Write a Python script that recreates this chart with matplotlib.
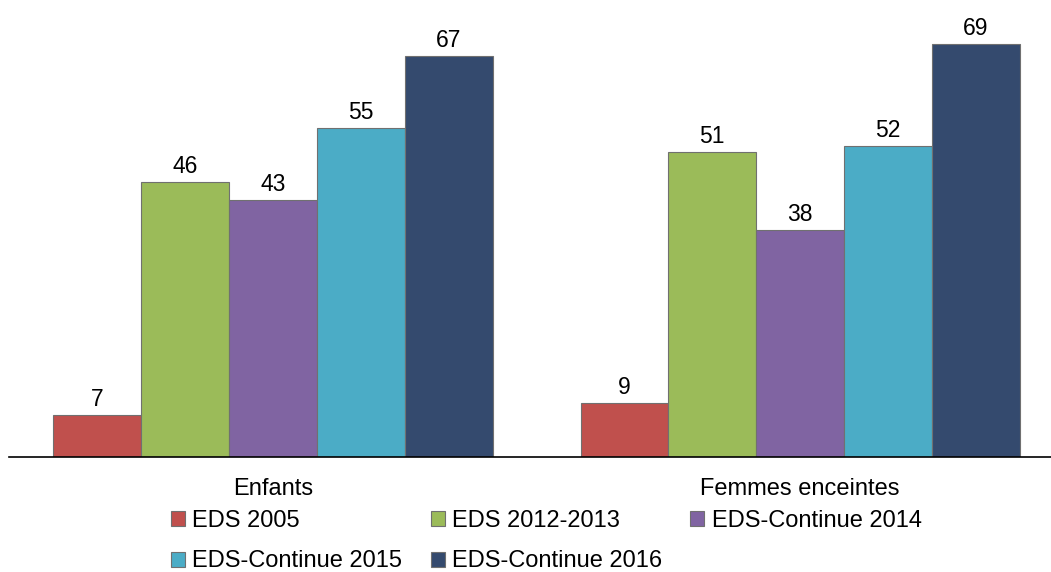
import numpy as np
import matplotlib.pyplot as plt

plt.rcParams['font.family'] = ['Liberation Sans', 'DejaVu Sans']

categories = ["Enfants", "Femmes enceintes"]
series = ["EDS 2005", "EDS 2012-2013", "EDS-Continue 2014",
          "EDS-Continue 2015", "EDS-Continue 2016"]
values = [
    [7, 9],
    [46, 51],
    [43, 38],
    [55, 52],
    [67, 69],
]
colors = ["#C0504D", "#9BBB59", "#8064A2", "#4BACC6", "#344A6E"]

fig = plt.figure(figsize=(10.51, 5.72), dpi=100)
ax = fig.add_axes([9/1051, 115/572, 1042/1051, 457/572])

x = np.arange(len(categories))
w = 1/6.
handles = []
for i, (name, vals) in enumerate(zip(series, values)):
    pos = x + (i - 2) * w
    bars = ax.bar(pos, vals, width=w, color=colors[i], edgecolor='#707070',
                  linewidth=0.8, label=name)
    handles.append(bars)
    for b, v in zip(bars, vals):
        ax.text(b.get_x() + b.get_width()/2, v + 0.7, str(v),
                ha='center', va='bottom', fontsize=16.5)

ax.set_xlim(-0.501, 1.476)
ax.set_ylim(0, 76.4)
ax.set_yticks([])
ax.set_xticks(x)
ax.set_xticklabels(categories, fontsize=17)
ax.tick_params(axis='x', length=0, pad=15)
for s in ['top', 'right', 'left']:
    ax.spines[s].set_visible(False)
ax.spines['bottom'].set_linewidth(1.2)

# row-major order for the legend (matplotlib fills columns first)
order = [0, 3, 1, 4, 2]
fig.legend([handles[k] for k in order], [series[k] for k in order],
           loc='upper left', bbox_to_anchor=(171/1051, 1 - 510/572),
           ncol=3, frameon=False, fontsize=17, handlelength=0.6, handleheight=0.6,
           handletextpad=0.3, columnspacing=1.2, labelspacing=0.78,
           borderpad=0, borderaxespad=0)

fig.savefig("out.png", dpi=100)
